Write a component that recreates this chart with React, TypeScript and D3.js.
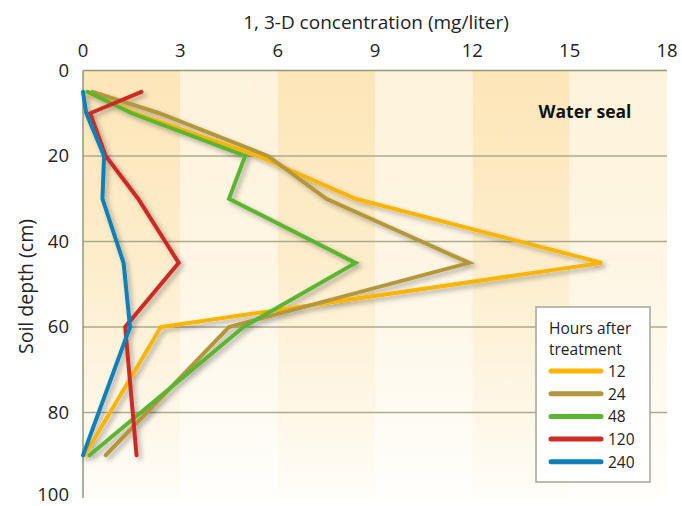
import { line, scaleLinear } from "d3";

const WIDTH = 682
const HEIGHT = 506

const depths = [5, 10, 20, 30, 45, 60, 90]
const xTicks = [0, 3, 6, 9, 12, 15, 18]
const yTicks = [0, 20, 40, 60, 80, 100]
const bands = [0, 3, 6, 9, 12, 15]

const hours = ["12", "24", "48", "120", "240"]
const colors = ["#fbb400", "#b3973b", "#5cb531", "#cc2b26", "#117fb9"]

const h12 = [0.1, 1.6, 5.4, 8.4, 16.0, 2.4, 0.05]
const h24 = [0.3, 2.35, 5.7, 7.5, 11.9, 4.5, 0.7]
const h48 = [0.15, 1.5, 5.0, 4.5, 8.4, 4.95, 0.2]
const h120 = [1.8, 0.22, 0.7, 1.7, 2.95, 1.3, 1.65]
const h240 = [0, 0.1, 0.65, 0.6, 1.25, 1.45, 0]

const series = [h12, h24, h48, h120, h240]

const FONT = "'Open Sans', sans-serif"

export default function App() {
  const x = scaleLinear().domain([0, 18]).range([83, 667])
  const y = scaleLinear().domain([0, 100]).range([70.5, 498])

  const path = line<number>()
    .x((d) => x(d))
    .y((_, i) => y(depths[i]))

  const lx = 536
  const ly = 307
  const lw = 114
  const lh = 175

  return (
    <svg width={WIDTH} height={HEIGHT} style={{ position: "absolute", left: 0, top: 0 }}>
      <defs>
        <linearGradient id="dark" x1="0" y1="0" x2="0" y2="1">
          <stop offset="0" stopColor="#fde6b8" />
          <stop offset="0.45" stopColor="#fdedcb" />
          <stop offset="1" stopColor="#fffdf8" />
        </linearGradient>
        <linearGradient id="light" x1="0" y1="0" x2="0" y2="1">
          <stop offset="0" stopColor="#fef3da" />
          <stop offset="0.45" stopColor="#fef6e4" />
          <stop offset="1" stopColor="#fffefb" />
        </linearGradient>
        <filter id="shadow" x="-10%" y="-10%" width="130%" height="130%">
          <feDropShadow dx="3" dy="3" stdDeviation="2.5" floodColor="#000" floodOpacity="0.3" />
        </filter>
      </defs>

      {/* bands */}
      {bands.map((b, i) => (
        <rect
          key={b}
          x={x(b)}
          y={y(0)}
          width={x(b + 3) - x(b)}
          height={y(100) - y(0)}
          fill={i % 2 === 0 ? "url(#dark)" : "url(#light)"}
        />
      ))}

      {/* grid */}
      {yTicks.slice(1, 5).map((t) => (
        <line key={t} x1={x(0)} x2={x(18)} y1={y(t)} y2={y(t)} stroke="#abab8c" strokeWidth={1.5} />
      ))}
      <line x1={x(0)} x2={x(18)} y1={y(0)} y2={y(0)} stroke="#8e9a7a" strokeWidth={1.5} />
      <line x1={x(0)} x2={x(0)} y1={y(0)} y2={y(100)} stroke="#8e9a7a" strokeWidth={1.5} />

      {/* axes labels */}
      {xTicks.map((t) => (
        <text key={t} x={x(t)} y={57} textAnchor="middle" fontFamily={FONT} fontSize={18.5} fill="#222">
          {t}
        </text>
      ))}
      {yTicks.map((t) => (
        <text key={t} x={69} y={Math.min(y(t) + 6, 501)} textAnchor="end" fontFamily={FONT} fontSize={18.5} fill="#222">
          {t}
        </text>
      ))}
      <text x={376} y={29} textAnchor="middle" fontFamily={FONT} fontSize={19} fill="#222">
        1, 3-D concentration (mg/liter)
      </text>
      <text
        transform="translate(33,286.5) rotate(-90)"
        textAnchor="middle"
        fontFamily={FONT}
        fontSize={19.5}
        fill="#222"
      >
        Soil depth (cm)
      </text>
      <text x={585} y={118} textAnchor="middle" fontFamily={FONT} fontSize={17.5} fontWeight="bold" fill="#111">
        Water seal
      </text>

      {/* lines */}
      <g filter="url(#shadow)">
        {series.map((s, i) => (
          <path
            key={hours[i]}
            d={path(s) ?? ""}
            fill="none"
            stroke={colors[i]}
            strokeWidth={4}
            strokeLinejoin="miter"
            strokeLinecap="round"
          />
        ))}
      </g>

      {/* legend */}
      <g>
        <rect x={lx} y={ly} width={lw} height={lh} fill="#fff" stroke="#a3a796" strokeWidth={1.5} />
        <text x={lx + 13} y={ly + 27} fontFamily={FONT} fontSize={15.5} fill="#222">Hours after</text>
        <text x={lx + 13} y={ly + 48} fontFamily={FONT} fontSize={15.5} fill="#222">treatment</text>
        {hours.map((h, i) => (
          <g key={h}>
            <line
              x1={lx + 15}
              x2={lx + 65}
              y1={ly + 64 + i * 22.7}
              y2={ly + 64 + i * 22.7}
              stroke={colors[i]}
              strokeWidth={5}
              strokeLinecap="round"
            />
            <text x={lx + 72} y={ly + 70 + i * 22.7} fontFamily={FONT} fontSize={15.5} fill="#222">
              {h}
            </text>
          </g>
        ))}
      </g>
    </svg>
  );
}
